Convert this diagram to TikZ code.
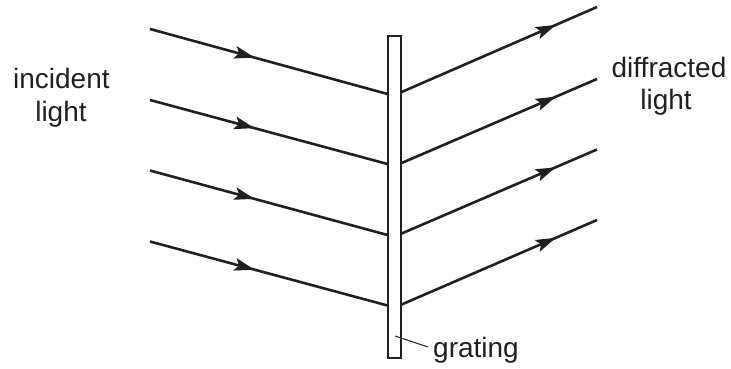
\documentclass[tikz,border=0pt]{standalone}
\usepackage{fontspec}
\setmainfont{Liberation Sans}
\usetikzlibrary{arrows.meta,decorations.markings}
\definecolor{ink}{HTML}{231F20}
\tikzset{
  ray/.style={draw=ink,line width=2.6pt,line cap=butt},
  midarrow/.style={postaction={decorate},decoration={markings,
    mark=at position #1 with {\arrow{Stealth[length=20pt,width=12.5pt,inset=4pt]}}}},
  lbl/.style={inner sep=0pt,anchor=base,text=ink,font=\fontsize{28}{32}\selectfont},
  gratingbox/.style={draw=ink,line width=2pt,fill=white,minimum width=13pt,minimum height=322pt,inner sep=0pt},
  leader/.style={draw=ink,line width=1pt}
}
\begin{document}
\begin{tikzpicture}[x=1pt,y=-1pt]
\useasboundingbox (0,0) rectangle (731,369);
% incident rays
\coordinate (a1) at (150,29);  \coordinate (b1) at (387.5,94);
\coordinate (a2) at (150,100); \coordinate (b2) at (387.5,164);
\coordinate (a3) at (150,170.5); \coordinate (b3) at (387.5,235);
\coordinate (a4) at (150,241.5); \coordinate (b4) at (387.5,305.5);
% diffracted rays
\coordinate (c1) at (400.5,92.5); \coordinate (d1) at (597,7);
\coordinate (c2) at (400.5,163.5); \coordinate (d2) at (597,79);
\coordinate (c3) at (400.5,234); \coordinate (d3) at (597,149.5);
\coordinate (c4) at (400.5,305); \coordinate (d4) at (597,220);
\foreach \i in {1,2,3,4}{
  \draw[ray,midarrow=0.44] (a\i) -- (b\i);
  \draw[ray,midarrow=0.79] (c\i) -- (d\i);
}
\node[gratingbox] (g) at (394,197) {};
\coordinate (lg) at (395,336);
\node[lbl,anchor=base west] (gt) at (433,357) {grating};
\draw[leader] (lg) -- (428,347);
\node[lbl] (inc1) at (61.4,88.3) {incident};
\node[lbl] (inc2) at (61,121.5) {light};
\node[lbl] (dif1) at (669,77.3) {diffracted};
\node[lbl] (dif2) at (666,110) {light};
\end{tikzpicture}
\end{document}
